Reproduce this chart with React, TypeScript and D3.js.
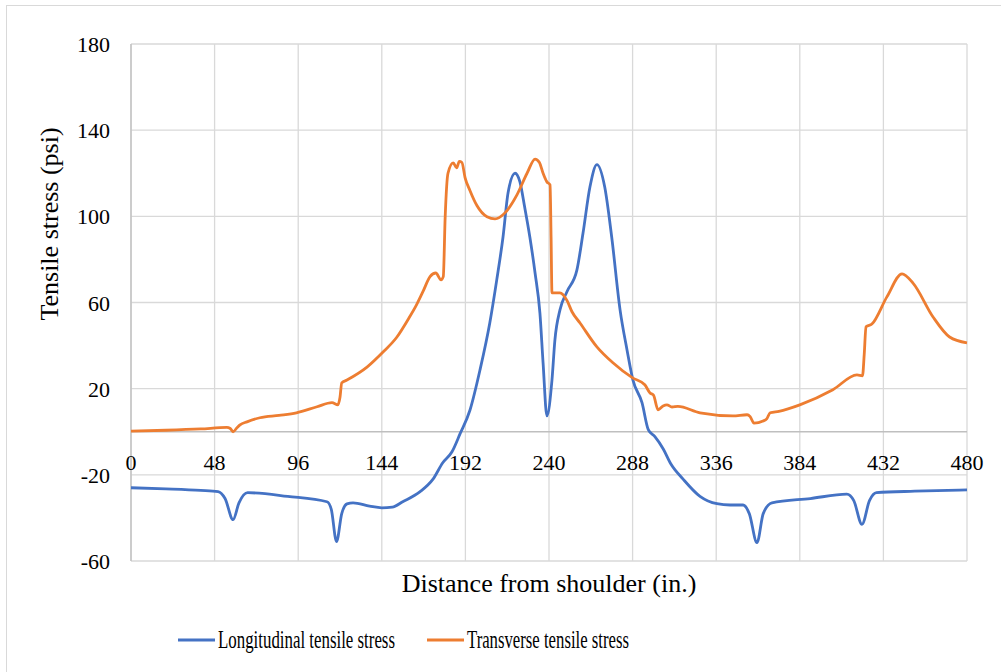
import React from 'react'
import * as d3 from 'd3'

// distance from shoulder (in.), longitudinal tensile stress (psi)
const longX = [0, 20, 40, 50, 54, 58.6, 62, 67, 90, 112.5, 115, 118, 121, 124, 127.5, 137, 144, 150, 156, 166, 173.4, 179, 184.3, 188.9, 194.6, 200.4, 206, 210, 213.6, 216.5, 220.5, 223.3, 226, 229, 232, 234.8, 236.6, 238.8, 241.7, 243.4, 246.3, 250.3, 256, 259.5, 263.5, 267.5, 272, 276, 280.8, 284.8, 288.2, 293.4, 297, 300.8, 305.6, 310, 317, 326.7, 336.4, 344, 351.4, 355, 359.4, 363, 368, 390, 411, 415, 419.7, 424, 428, 450, 480]
const longY = [-26, -26.5, -27.2, -27.8, -31, -40.8, -33, -28.3, -30, -32.5, -36, -51, -38, -33.5, -33, -34.5, -35.3, -35, -32.5, -27.8, -22, -14.4, -9.3, -1, 10, 28.8, 50.5, 70.5, 90.4, 111, 120, 116, 104.4, 90.4, 73.7, 55, 32, 7.4, 24, 42.7, 56.6, 65, 75, 92, 113.6, 124, 113.6, 90.4, 56.6, 38, 24, 13.5, 1, -2.3, -8, -15, -22, -30, -33.4, -34, -34, -38, -51.5, -38, -33, -31, -29, -32, -43, -32, -28.3, -27.6, -27]

// distance from shoulder (in.), transverse tensile stress (psi)
const transX = [0, 20, 40, 55, 57, 58.6, 61, 62.6, 66.6, 74, 85, 95, 106.8, 115.4, 118.8, 120, 121, 124, 135.5, 144.7, 152.7, 159, 164, 167.6, 171.7, 175, 178, 179.3, 180.4, 182, 185, 187, 188.5, 190, 191.8, 194.6, 198.6, 204.4, 209, 214.7, 221.6, 227.4, 232, 234.5, 236.6, 238.8, 240.6, 241.2, 241.7, 246.3, 250.3, 253.2, 257.8, 267.5, 276.7, 288, 295, 298, 300, 302.6, 305.5, 307.7, 310.6, 314, 326.7, 345.6, 353.7, 355.5, 357.7, 362.9, 365, 367, 372, 384, 403, 416.8, 420, 421, 422, 425.4, 434, 442.7, 449, 460.5, 470, 480]
const transY = [0.3, 0.7, 1.3, 2, 1.5, 0, 2, 3.2, 4.6, 6.5, 7.6, 8.8, 11.6, 13.5, 12.5, 16, 22.7, 24, 30, 37, 44, 52, 59, 65, 72, 73.7, 70.5, 72, 100, 120, 124.8, 122.5, 125.5, 125, 118, 112, 105, 99.8, 98.8, 101.6, 110, 120, 126.6, 125, 120, 116, 114.6, 90, 64.5, 64.5, 61, 55.7, 50.5, 39.4, 32, 25, 21.8, 18, 17, 10.2, 12, 12.5, 11.5, 11.8, 8.8, 7.4, 7.9, 7, 4, 5, 6, 8.8, 9.5, 12.5, 19.5, 26.4, 26, 36, 48.7, 50, 62.6, 73.3, 69, 53.3, 44, 41.3]

const xTicks = [0, 48, 96, 144, 192, 240, 288, 336, 384, 432, 480]
const yTicks = [-60, -20, 20, 60, 100, 140, 180]

const seriesNames = ['Longitudinal tensile stress', 'Transverse tensile stress']
const colors = ['#4472C4', '#ED7D31']

export default function App() {
    const width = 1001
    const height = 672
    const [left, right, top, bottom] = [131, 967, 44, 561]

    const x = d3.scaleLinear().domain([0, 480]).range([left, right])
    const y = d3.scaleLinear().domain([-60, 180]).range([bottom, top])

    const line = d3
        .line<[number, number]>()
        .x(d => x(d[0]))
        .y(d => y(d[1]))
        .curve(d3.curveMonotoneX)

    const longPath = line(longX.map((v, i) => [v, longY[i]]))
    const transPath = line(transX.map((v, i) => [v, transY[i]]))

    const font = 'Liberation Serif'

    // legend entries: swatch start and text width (text is condensed in the original)
    const legend = [
        { lx: 178, tw: 177 },
        { lx: 427, tw: 162 },
    ]

    return (
        <svg
            width={width}
            height={height}
            style={{ position: 'absolute', left: 0, top: 0, fontFamily: font }}
        >
            <rect x={0} y={0} width={width} height={height} fill='white' />
            <rect
                x={6.5}
                y={5.5}
                width={width + 10}
                height={height + 10}
                fill='none'
                stroke='#d9d9d9'
            />
            <g stroke='#d9d9d9' strokeWidth={1.3}>
                {yTicks.map(t => (
                    <line key={t} x1={left} x2={right} y1={y(t)} y2={y(t)} />
                ))}
                {xTicks.map(t => (
                    <line key={t} x1={x(t)} x2={x(t)} y1={top} y2={bottom} />
                ))}
            </g>
            <line x1={left} x2={right} y1={y(0)} y2={y(0)} stroke='#bfbfbf' strokeWidth={1.5} />
            <line x1={left} x2={left} y1={top} y2={bottom} stroke='#bfbfbf' strokeWidth={1.3} />
            <g style={{ fontFamily: font, fontSize: '22px' }} fill='#000'>
                {yTicks.map(t => (
                    <text key={t} x={110} y={y(t) + 8} textAnchor='end'>
                        {t}
                    </text>
                ))}
                {xTicks.map(t => (
                    <text key={t} x={x(t)} y={y(0) + 38} textAnchor='middle'>
                        {t}
                    </text>
                ))}
            </g>
            <path d={longPath ?? ''} fill='none' stroke={colors[0]} strokeWidth={2.8} strokeLinejoin='round' />
            <path d={transPath ?? ''} fill='none' stroke={colors[1]} strokeWidth={2.8} strokeLinejoin='round' />
            <text
                transform='translate(58, 224) rotate(-90)'
                textAnchor='middle'
                style={{ fontFamily: font, fontSize: '26px' }}
            >
                Tensile stress (psi)
            </text>
            <text x={549} y={592} textAnchor='middle' style={{ fontFamily: font, fontSize: '26px' }}>
                Distance from shoulder (in.)
            </text>
            <g style={{ fontFamily: font, fontSize: '26px' }}>
                {seriesNames.map((n, i) => {
                    const { lx, tw } = legend[i]
                    return (
                        <g key={n}>
                            <line x1={lx} x2={lx + 37} y1={640} y2={640} stroke={colors[i]} strokeWidth={3} />
                            <text x={lx + 40} y={648} textLength={tw} lengthAdjust='spacingAndGlyphs'>
                                {n}
                            </text>
                        </g>
                    )
                })}
            </g>
        </svg>
    )
}
